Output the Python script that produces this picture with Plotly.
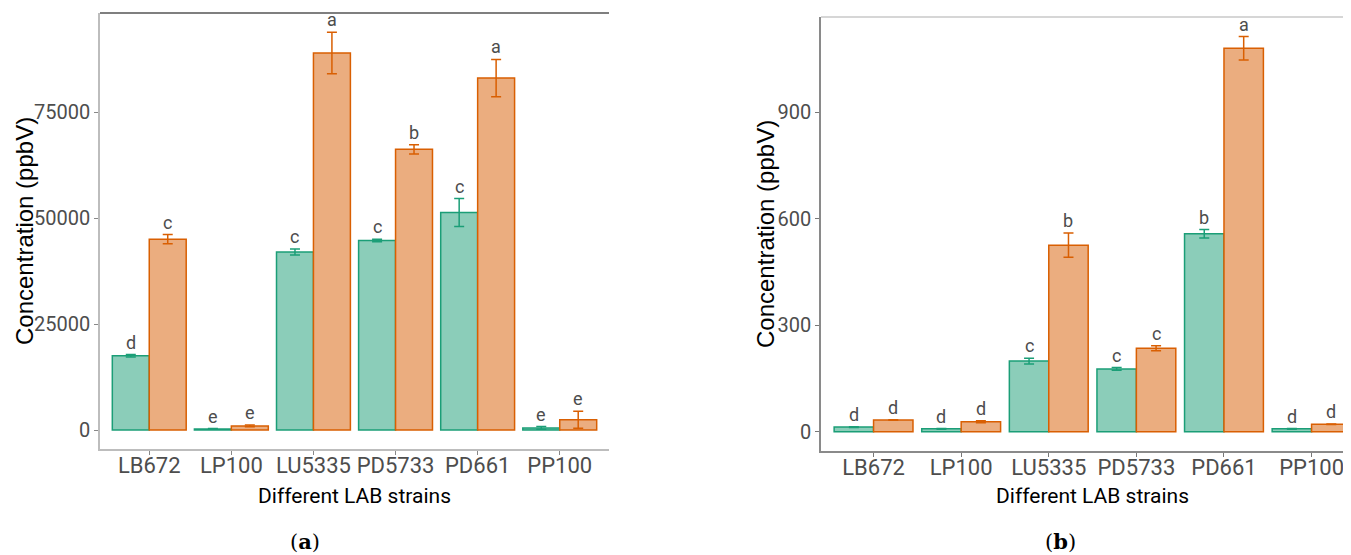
import plotly.graph_objects as go

categories = ["LB672", "LP100", "LU5335", "PD5733", "PD661", "PP100"]

# panel (a)
a_green = [17500, 250, 42000, 44700, 51300, 500]
a_green_err = [300, 100, 700, 300, 3300, 300]
a_orange = [45000, 950, 88900, 66200, 83000, 2400]
a_orange_err = [1100, 200, 4900, 1100, 4400, 2000]
a_green_lab = ["d", "e", "c", "c", "c", "e"]
a_orange_lab = ["c", "e", "a", "b", "a", "e"]

# panel (b)
b_green = [13, 8, 199, 177, 558, 8]
b_green_err = [1, 1, 8, 4, 12, 1]
b_orange = [33, 28, 526, 235, 1081, 21]
b_orange_err = [1, 3, 34, 7, 33, 1]
b_green_lab = ["d", "d", "c", "c", "b", "d"]
b_orange_lab = ["d", "d", "b", "c", "a", "d"]

a_ticks = [0, 25000, 50000, 75000]
b_ticks = [0, 300, 600, 900]

GREEN_LINE = "#1B9E77"
GREEN_FILL = "#8BCDB9"
ORANGE_LINE = "#D95F02"
ORANGE_FILL = "#EBAD7F"

NARROW = "Roboto, Liberation Sans, sans-serif"

# page is 1351x555 but the html body has an 8px margin
OFF = 8
W, H = 1351 - OFF, 555 - OFF


def px(x):
    return (x - OFF) / W


def py(y):
    return 1 - (y - OFF) / H


fig = go.Figure()


def add_panel(xa, ya, g, ge, o, oe):
    fig.add_trace(go.Bar(
        x=categories, y=g, xaxis=xa, yaxis=ya,
        marker=dict(color=GREEN_FILL, line=dict(color=GREEN_LINE, width=1.5)),
        error_y=dict(type="data", array=ge, color=GREEN_LINE, thickness=1.5, width=5),
        showlegend=False, hoverinfo="skip"))
    fig.add_trace(go.Bar(
        x=categories, y=o, xaxis=xa, yaxis=ya,
        marker=dict(color=ORANGE_FILL, line=dict(color=ORANGE_LINE, width=1.5)),
        error_y=dict(type="data", array=oe, color=ORANGE_LINE, thickness=1.5, width=5),
        showlegend=False, hoverinfo="skip"))


add_panel("x", "y", a_green, a_green_err, a_orange, a_orange_err)
add_panel("x2", "y2", b_green, b_green_err, b_orange, b_orange_err)

# page-pixel layout
a_x0, a_x1 = 100, 609
a_y0, a_y1 = 13, 449
b_x0, b_x1 = 821, 1351
b_y0, b_y1 = 17, 451

annotations = []


def add_labels(xref, yref, vals, errs, labs, shift):
    for c, v, e, l in zip(categories, vals, errs, labs):
        annotations.append(dict(
            x=c, y=v + e, xref=xref, yref=yref, text=l, showarrow=False,
            xshift=shift, yanchor="bottom", yshift=0,
            font=dict(family=NARROW, size=18, color="#4d4d4d")))


ppu_a = (a_x1 - a_x0) / 6.2
ppu_b = (b_x1 - b_x0) / 6.05
add_labels("x", "y", a_green, a_green_err, a_green_lab, -0.225 * ppu_a)
add_labels("x", "y", a_orange, a_orange_err, a_orange_lab, 0.225 * ppu_a)
add_labels("x2", "y2", b_green, b_green_err, b_green_lab, -0.225 * ppu_b)
add_labels("x2", "y2", b_orange, b_orange_err, b_orange_lab, 0.225 * ppu_b)

# axis titles and captions
for cx, xt in [((a_x0 + a_x1) / 2, "Different LAB strains"), ((b_x0 + 1364) / 2, "Different LAB strains")]:
    annotations.append(dict(x=px(cx), y=py(496), xref="paper", yref="paper", text=xt,
                            xanchor="center", yanchor="middle",
                            showarrow=False, font=dict(family=NARROW, size=21, color="#000000")))
for cx, cy, yt in [(24, 231, "Concentration (ppbV)"), (766, 234, "Concentration (ppbV)")]:
    annotations.append(dict(x=px(cx), y=py(cy), xref="paper", yref="paper", text=yt,
                            xanchor="center", yanchor="middle",
                            showarrow=False, textangle=-90,
                            font=dict(family="Liberation Sans, Arial, sans-serif", size=24, color="#000000")))
for cx, cap in [(305, "(<b>a</b>)"), (1060, "(<b>b</b>)")]:
    annotations.append(dict(x=px(cx), y=py(541), xref="paper", yref="paper", text=cap,
                            xanchor="center", yanchor="middle",
                            showarrow=False,
                            font=dict(family="DejaVu Serif, Liberation Serif, serif", size=21, color="#000000")))

shapes = [
    dict(type="line", xref="paper", yref="paper", x0=px(a_x0), x1=px(a_x1),
         y0=py(a_y0), y1=py(a_y0), line=dict(color="#555555", width=1.5)),
    dict(type="line", xref="paper", yref="paper", x0=px(b_x0), x1=1,
         y0=py(b_y0), y1=py(b_y0), line=dict(color="#c8c8c8", width=1.5)),
]

ytickfont = dict(family=NARROW, size=20, color="#4d4d4d")
xtickfont = dict(family=NARROW, size=22, color="#4d4d4d")

fig.update_layout(
    width=W, height=H,
    margin=dict(l=0, r=0, t=0, b=0),
    paper_bgcolor="white", plot_bgcolor="white",
    barmode="group", bargap=0.1, bargroupgap=0,
    annotations=annotations, shapes=shapes,
    xaxis=dict(domain=[px(a_x0), px(a_x1)], anchor="y", range=[-0.6, 5.6],
               showline=True, linecolor="#bdbdbd", linewidth=1.5, ticks="outside",
               ticklen=4, tickcolor="#888888", tickfont=xtickfont, showgrid=False,
               tickangle=0, ticklabelstandoff=-8),
    yaxis=dict(domain=[py(a_y1), py(a_y0)], anchor="x",
               range=[-(a_y1 - 430) / 106 * 25000, (430 - a_y0) / 106 * 25000],
               tickvals=a_ticks, tickformat="d", showline=True, linecolor="#bdbdbd", linewidth=1.5,
               ticks="outside", ticklen=4, tickcolor="#888888", tickfont=ytickfont,
               showgrid=False, zeroline=False),
    xaxis2=dict(domain=[px(b_x0), 1], anchor="y2", range=[-0.6, 5.45],
                showline=True, linecolor="#8a8a8a", linewidth=1.5, ticks="outside",
                ticklen=4, tickcolor="#777777", tickfont=xtickfont, showgrid=False,
                tickangle=0, ticklabelstandoff=-8),
    yaxis2=dict(domain=[py(b_y1), py(b_y0)], anchor="x2",
                range=[-(b_y1 - 431.7) / 0.3547, (431.7 - b_y0) / 0.3547],
                tickvals=b_ticks, tickformat="d", showline=True, linecolor="#8a8a8a", linewidth=1.5,
                ticks="outside", ticklen=4, tickcolor="#777777", tickfont=ytickfont,
                showgrid=False, zeroline=False),
)

fig.write_html("out.html")
